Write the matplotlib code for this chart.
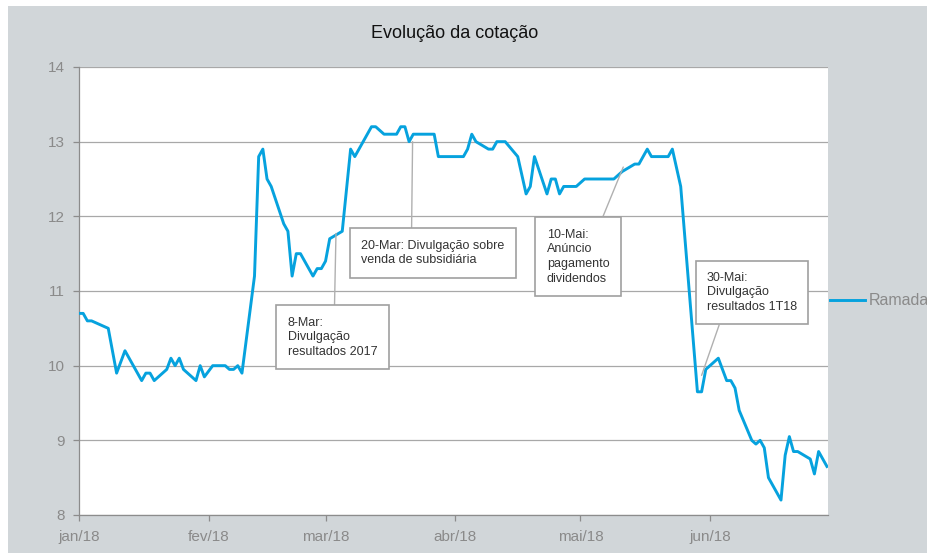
import numpy as np
import pandas as pd
import matplotlib
matplotlib.use("Agg")
import matplotlib.pyplot as plt
from matplotlib.patches import Rectangle
from matplotlib.font_manager import fontManager

# Share price (Ramada), 2018
dates = ["2018-01-01", "2018-01-02", "2018-01-03", "2018-01-04", "2018-01-08", "2018-01-10",
         "2018-01-12", "2018-01-16", "2018-01-17", "2018-01-18", "2018-01-19", "2018-01-22",
         "2018-01-23", "2018-01-24", "2018-01-25", "2018-01-26", "2018-01-29", "2018-01-30",
         "2018-01-31", "2018-02-02", "2018-02-05", "2018-02-06", "2018-02-07", "2018-02-08",
         "2018-02-09", "2018-02-12", "2018-02-13", "2018-02-14", "2018-02-15", "2018-02-16",
         "2018-02-19", "2018-02-20", "2018-02-21", "2018-02-22", "2018-02-23", "2018-02-26",
         "2018-02-27", "2018-02-28", "2018-03-01", "2018-03-02", "2018-03-05", "2018-03-07",
         "2018-03-08", "2018-03-09", "2018-03-12", "2018-03-13", "2018-03-15", "2018-03-18",
         "2018-03-19", "2018-03-20", "2018-03-21", "2018-03-22", "2018-03-27", "2018-03-28",
         "2018-04-03", "2018-04-04", "2018-04-05", "2018-04-06", "2018-04-09", "2018-04-10",
         "2018-04-11", "2018-04-13", "2018-04-16", "2018-04-18", "2018-04-19", "2018-04-20",
         "2018-04-23", "2018-04-24", "2018-04-25", "2018-04-26", "2018-04-27", "2018-04-30",
         "2018-05-02", "2018-05-09", "2018-05-11", "2018-05-14", "2018-05-15", "2018-05-17",
         "2018-05-18", "2018-05-22", "2018-05-23", "2018-05-25", "2018-05-29", "2018-05-30",
         "2018-05-31", "2018-06-01", "2018-06-03", "2018-06-05", "2018-06-06", "2018-06-07",
         "2018-06-08", "2018-06-11", "2018-06-12", "2018-06-13", "2018-06-14", "2018-06-15",
         "2018-06-18", "2018-06-19", "2018-06-20", "2018-06-21", "2018-06-22", "2018-06-25",
         "2018-06-26", "2018-06-27", "2018-06-29"]
prices = [10.70, 10.70, 10.60, 10.60, 10.50, 9.90,
          10.20, 9.80, 9.90, 9.90, 9.80, 9.95,
          10.10, 10.00, 10.10, 9.95, 9.80, 10.00,
          9.85, 10.00, 10.00, 9.95, 9.95, 10.00,
          9.90, 11.20, 12.80, 12.90, 12.50, 12.40,
          11.90, 11.80, 11.20, 11.50, 11.50, 11.20,
          11.30, 11.30, 11.40, 11.70, 11.80, 12.90,
          12.80, 12.90, 13.20, 13.20, 13.10, 13.10,
          13.20, 13.20, 13.00, 13.10, 13.10, 12.80,
          12.80, 12.90, 13.10, 13.00, 12.90, 12.90,
          13.00, 13.00, 12.80, 12.30, 12.40, 12.80,
          12.30, 12.50, 12.50, 12.30, 12.40, 12.40,
          12.50, 12.50, 12.60, 12.70, 12.70, 12.90,
          12.80, 12.80, 12.90, 12.40, 9.65, 9.65,
          9.95, 10.00, 10.10, 9.80, 9.80, 9.70,
          9.40, 9.00, 8.95, 9.00, 8.90, 8.50,
          8.20, 8.80, 9.05, 8.85, 8.85, 8.75,
          8.55, 8.85, 8.65]
series_name = "Ramada"

# Event notes: text, point date, point value, box centre date, box centre value, leader start on box
notes_text = ["8-Mar:\nDivulgação\nresultados 2017",
              "20-Mar: Divulgação sobre\nvenda de subsidiária",
              "10-Mai:\nAnúncio\npagamento\ndividendos",
              "30-Mai:\nDivulgação\nresultados 1T18"]
notes_xy = [("2018-03-03 12:00", 11.77), ("2018-03-21 20:00", 13.0),
            ("2018-05-11 06:00", 12.66), ("2018-05-30 00:00", 9.87)]
notes_box = [("2018-03-02 16:00", 10.38), ("2018-03-26 17:00", 11.51),
             ("2018-04-30 10:00", 11.46), ("2018-06-11 02:00", 10.98)]
notes_relpos = [(0.52, 1.0), (0.35, 1.0), (0.82, 1.0), (0.18, 0.0)]

month_ticks = ["2018-01-01", "2018-02-01", "2018-03-01", "2018-04-01", "2018-05-01", "2018-06-01"]
month_labels = ["jan/18", "fev/18", "mar/18", "abr/18", "mai/18", "jun/18"]

names = {f.name for f in fontManager.ttflist}
fams = [f for f in ["Liberation Sans Narrow", "Liberation Sans", "DejaVu Sans"] if f in names]
plt.rcParams["font.family"] = fams

bg = "#d1d6d9"
grey_txt = "#8a8a8a"
line_col = "#06a2de"

fig = plt.figure(figsize=(9.28, 5.53), dpi=100, facecolor="white")
fig.patches.append(Rectangle((8 / 928, 0), 1, 1 - 6 / 553, transform=fig.transFigure,
                             facecolor=bg, edgecolor="none", zorder=-5))
ax = fig.add_axes([79 / 928, 38 / 553, 749 / 928, 448 / 553])
ax.set_facecolor("white")

x = pd.to_datetime(dates)
ax.plot(x, prices, color=line_col, lw=2.1, label=series_name, zorder=3)

ax.set_ylim(8, 14)
ax.set_yticks(range(8, 15))
ax.set_xlim(pd.Timestamp("2018-01-01"), pd.Timestamp("2018-06-29 06:00"))
ax.set_xticks(pd.to_datetime(month_ticks))
ax.set_xticklabels(month_labels)
ax.grid(axis="y", color="#a8a8a8", lw=0.9)
ax.set_axisbelow(True)
for s in ["top", "right"]:
    ax.spines[s].set_visible(False)
for s in ["left", "bottom"]:
    ax.spines[s].set_color("#8c8c8c")
    ax.spines[s].set_linewidth(0.9)
ax.tick_params(colors="#8c8c8c", labelcolor=grey_txt, labelsize=11, length=4, width=0.9)
ax.tick_params(axis="y", pad=6)
ax.tick_params(axis="x", pad=7)

for txt, (pd_, pv), (bd, bv), rp in zip(notes_text, notes_xy, notes_box, notes_relpos):
    ax.annotate(txt, xy=(pd.Timestamp(pd_), pv), xytext=(pd.Timestamp(bd), bv),
                textcoords="data", ha="center", va="center", multialignment="left",
                fontsize=9, color="#333333", linespacing=1.3,
                bbox=dict(boxstyle="square,pad=0.9", fc="white", ec="#a0a0a0", lw=1.2),
                arrowprops=dict(arrowstyle="-", color="#b0b0b0", lw=1.0, relpos=rp,
                                shrinkA=0, shrinkB=0),
                zorder=4)

ax.legend(loc="center left", bbox_to_anchor=(1.003, 0.478), frameon=False, fontsize=11.5,
          handlelength=2.2, handletextpad=0.2, borderpad=0, borderaxespad=0,
          labelcolor=grey_txt)

fig.text(455 / 928, 1 - 33 / 553, "Evolução da cotação", ha="center", va="center",
         fontsize=13, color="#111111")

fig.savefig("out.png", dpi=100, facecolor=fig.get_facecolor())
